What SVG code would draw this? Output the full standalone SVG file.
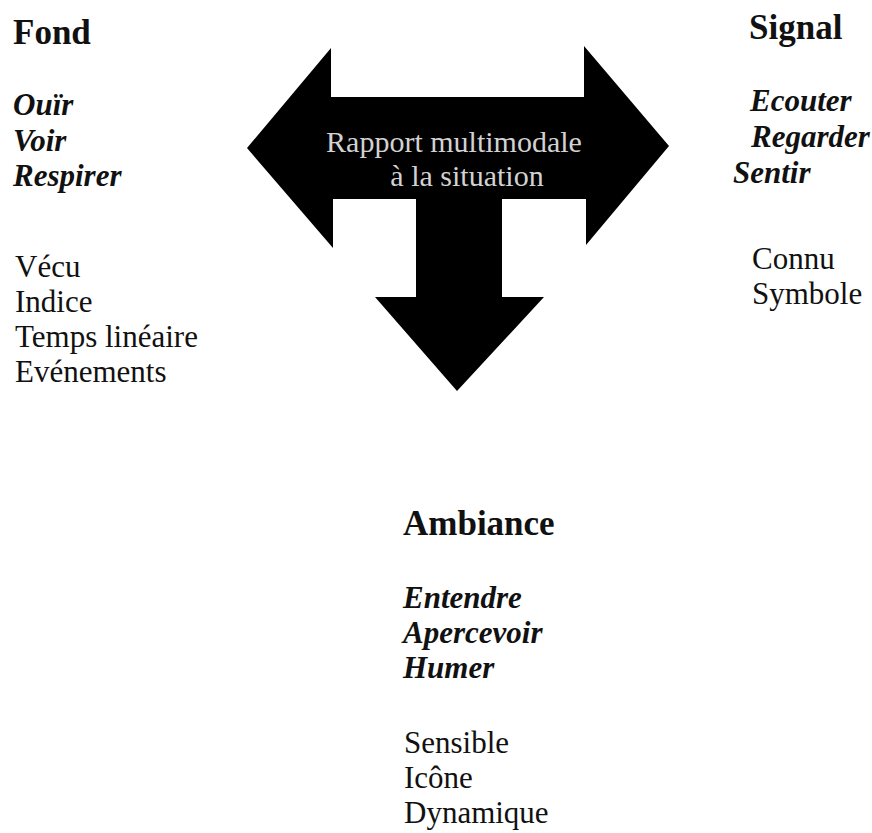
<svg xmlns="http://www.w3.org/2000/svg" width="872" height="833" viewBox="0 0 872 833">
<style>
text{font-family:"Liberation Serif","Times New Roman",serif;fill:#111}
.t{font-size:35px;font-weight:bold}
.v{font-size:31px;font-weight:bold;font-style:italic}
.r{font-size:31px}
.c{font-size:30px;fill:#d2d2d2;text-anchor:middle}
</style>
<rect width="872" height="833" fill="#fff"/>
<g id="connectors">
<g id="arrow">
<path d="M247,148 L331,48 L331,97 L584,97 L584,46 L669,146 L586,245 L586,199 L502,199 L502,297 L544,297 L457,391 L375,297 L416,297 L416,199 L333,199 L333,248 Z" fill="#000"/>
<text class="c" x="454" y="152">Rapport multimodale</text>
<text class="c" x="467" y="186">à la situation</text>
</g>
</g>
<g id="fond">
<text class="t" x="13" y="44">Fond</text>
<text class="v" x="13" y="115">Ouïr</text>
<text class="v" x="13" y="151">Voir</text>
<text class="v" x="13" y="186">Respirer</text>
<text class="r" x="15" y="277">Vécu</text>
<text class="r" x="15" y="312">Indice</text>
<text class="r" x="15" y="347">Temps linéaire</text>
<text class="r" x="15" y="382">Evénements</text>
</g>
<g id="signal">
<text class="t" x="749" y="39">Signal</text>
<text class="v" x="750" y="111">Ecouter</text>
<text class="v" x="751" y="147">Regarder</text>
<text class="v" x="733" y="183">Sentir</text>
<text class="r" x="752" y="269">Connu</text>
<text class="r" x="752" y="304">Symbole</text>
</g>
<g id="ambiance">
<text class="t" x="403" y="535">Ambiance</text>
<text class="v" x="403" y="608">Entendre</text>
<text class="v" x="403" y="643">Apercevoir</text>
<text class="v" x="403" y="678">Humer</text>
<text class="r" x="404" y="753">Sensible</text>
<text class="r" x="404" y="788">Icône</text>
<text class="r" x="404" y="823">Dynamique</text>
</g>
</svg>
